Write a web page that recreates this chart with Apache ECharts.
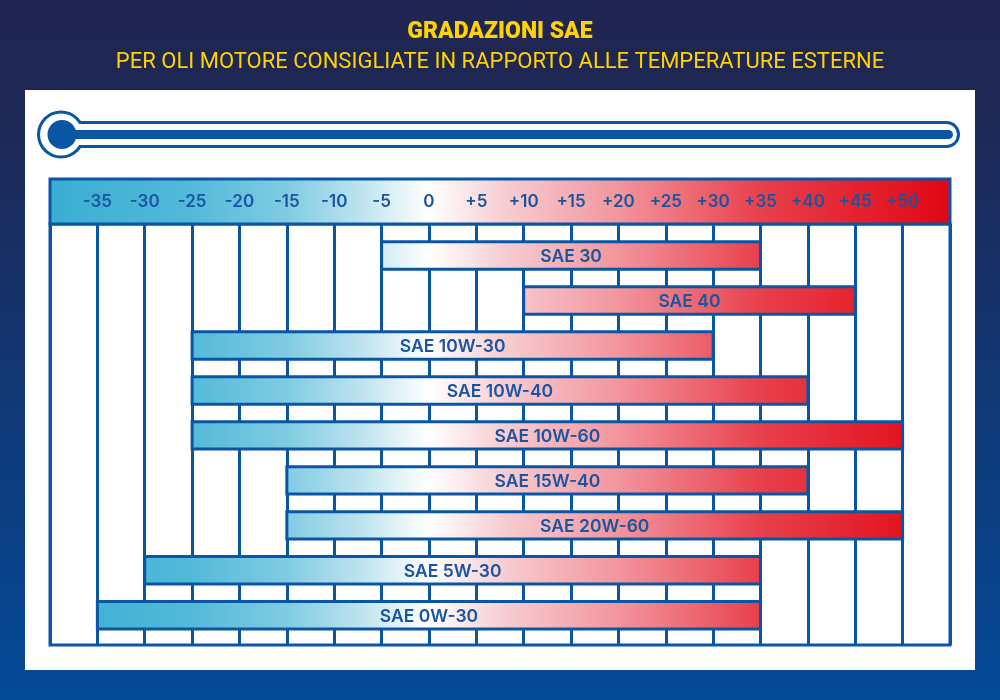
<!DOCTYPE html>
<html>
<head>
<meta charset="utf-8">
<script src="https://cdn.jsdelivr.net/npm/echarts@6/dist/echarts.min.js"></script>
<style>
html,body{margin:0;padding:0;background:#1f2550;}
#chart{width:1000px;height:700px;}
</style>
</head>
<body>
<div id="chart"></div>
<script>
// ---- data ----
const grades   = ['SAE 30','SAE 40','SAE 10W-30','SAE 10W-40','SAE 10W-60','SAE 15W-40','SAE 20W-60','SAE 5W-30','SAE 0W-30'];
const minTemp  = [-5, 10, -25, -25, -25, -15, -15, -30, -35];
const maxTemp  = [35, 45,  30,  40,  50,  40,  50,  35,  35];
const axisMin = -40, axisMax = 55, axisStep = 5;
const titleText = 'GRADAZIONI SAE';
const subText = 'PER OLI MOTORE CONSIGLIATE IN RAPPORTO ALLE TEMPERATURE ESTERNE';

// ---- style ----
const BLUE = '#0b55a5';
const TEXT = '#1a55a2';
const YELLOW = '#ffd200';
const tempStops = [
  {t:-40, c:'#39aed2'},
  {t:-25, c:'#53bad9'},
  {t:-15, c:'#80cbe2'},
  {t:-7,  c:'#bfe4ef'},
  {t:0,   c:'#ffffff'},
  {t:8,   c:'#f7cdd1'},
  {t:20,  c:'#f2959d'},
  {t:35,  c:'#e8404c'},
  {t:55,  c:'#e10613'}
];

const chart = echarts.init(document.getElementById('chart'));

function tempGradient(api){
  const x0 = api.coord([axisMin, 0])[0];
  const x1 = api.coord([axisMax, 0])[0];
  const stops = tempStops.map(s => ({offset:(s.t-axisMin)/(axisMax-axisMin), color:s.c}));
  return new echarts.graphic.LinearGradient(x0, 0, x1, 0, stops, true);
}

const yMin = -0.7, yMax = 8.66;

const barData = grades.map((g,i)=>[minTemp[i], maxTemp[i], i, g]);

const option = {
  animation:false,
  backgroundColor: new echarts.graphic.LinearGradient(0,0,0,1,[
    {offset:0, color:'#1f2550'},
    {offset:0.15, color:'#1e2754'},
    {offset:1, color:'#034a98'}
  ]),
  title:[
    {text:titleText, left:'center', top:16,
     textStyle:{color:YELLOW, fontFamily:'Roboto', fontWeight:900, fontSize:23}},
    {text:subText, left:'center', top:46,
     textStyle:{color:YELLOW, fontFamily:'Roboto', fontWeight:400, fontSize:22}}
  ],
  graphic:[
    {type:'rect', z:-10, shape:{x:25,y:90,width:950,height:580}, style:{fill:'#ffffff'}},
    // thermometer outline
    {type:'circle', z:-5, shape:{cx:61,cy:134.5,r:24}, style:{fill:BLUE}},
    {type:'rect', z:-5, shape:{x:55,y:121,width:905,height:27,r:13.5}, style:{fill:BLUE}},
    {type:'circle', z:-4, shape:{cx:61,cy:134.5,r:21}, style:{fill:'#ffffff'}},
    {type:'rect', z:-4, shape:{x:58,y:124,width:899,height:21,r:10.5}, style:{fill:'#ffffff'}},
    {type:'circle', z:-3, shape:{cx:62,cy:134.5,r:14.5}, style:{fill:BLUE}},
    {type:'rect', z:-3, shape:{x:62,y:130,width:891,height:9,r:4.5}, style:{fill:BLUE}}
  ],
  grid:{left:50, right:50, top:224, bottom:55, show:true, borderColor:BLUE, borderWidth:3, backgroundColor:'#ffffff'},
  xAxis:[
    {type:'value', min:axisMin, max:axisMax, interval:axisStep, position:'bottom', z:0,
     axisLine:{show:false}, axisTick:{show:false}, axisLabel:{show:false},
     splitLine:{show:true, lineStyle:{color:BLUE, width:3}}},
    {type:'value', min:axisMin, max:axisMax, interval:axisStep, position:'top', z:10,
     axisLine:{show:false}, axisTick:{show:false}, splitLine:{show:false},
     axisLabel:{show:true, margin:22, verticalAlign:'middle', color:TEXT,
       fontFamily:'Inter', fontWeight:600, fontSize:17,
       formatter:function(v){ if(v===axisMin||v===axisMax) return ''; return v>0 ? '+'+v : String(v); }}}
  ],
  yAxis:{type:'value', inverse:true, min:yMin, max:yMax, show:false, splitLine:{show:false}},
  series:[
    {
      type:'custom', name:'header', z:1, xAxisIndex:0, silent:true,
      data:[[axisMin, axisMax]],
      renderItem:function(params, api){
        const a = api.coord([axisMin, yMin]);
        const b = api.coord([axisMax, yMin]);
        return {type:'rect', shape:{x:a[0], y:a[1]-45, width:b[0]-a[0], height:45},
          style:{fill:tempGradient(api), stroke:BLUE, lineWidth:3}};
      }
    },
    {
      type:'custom', name:'bars', z:2, xAxisIndex:0,
      data:barData,
      encode:{x:[0,1], y:2},
      renderItem:function(params, api){
        const s = api.coord([api.value(0), api.value(2)]);
        const e = api.coord([api.value(1), api.value(2)]);
        const h = api.size([0,1])[1]*0.61;
        return {type:'rect',
          shape:{x:s[0], y:s[1]-h/2, width:e[0]-s[0], height:h},
          style:{fill:tempGradient(api), stroke:BLUE, lineWidth:3},
          textContent:{style:{text:grades[params.dataIndex], fill:TEXT,
            fontFamily:'Inter', fontWeight:600, fontSize:17.5}},
          textConfig:{position:'inside', offset:[0,1]}
        };
      }
    }
  ]
};
chart.setOption(option);
</script>
</body>
</html>
